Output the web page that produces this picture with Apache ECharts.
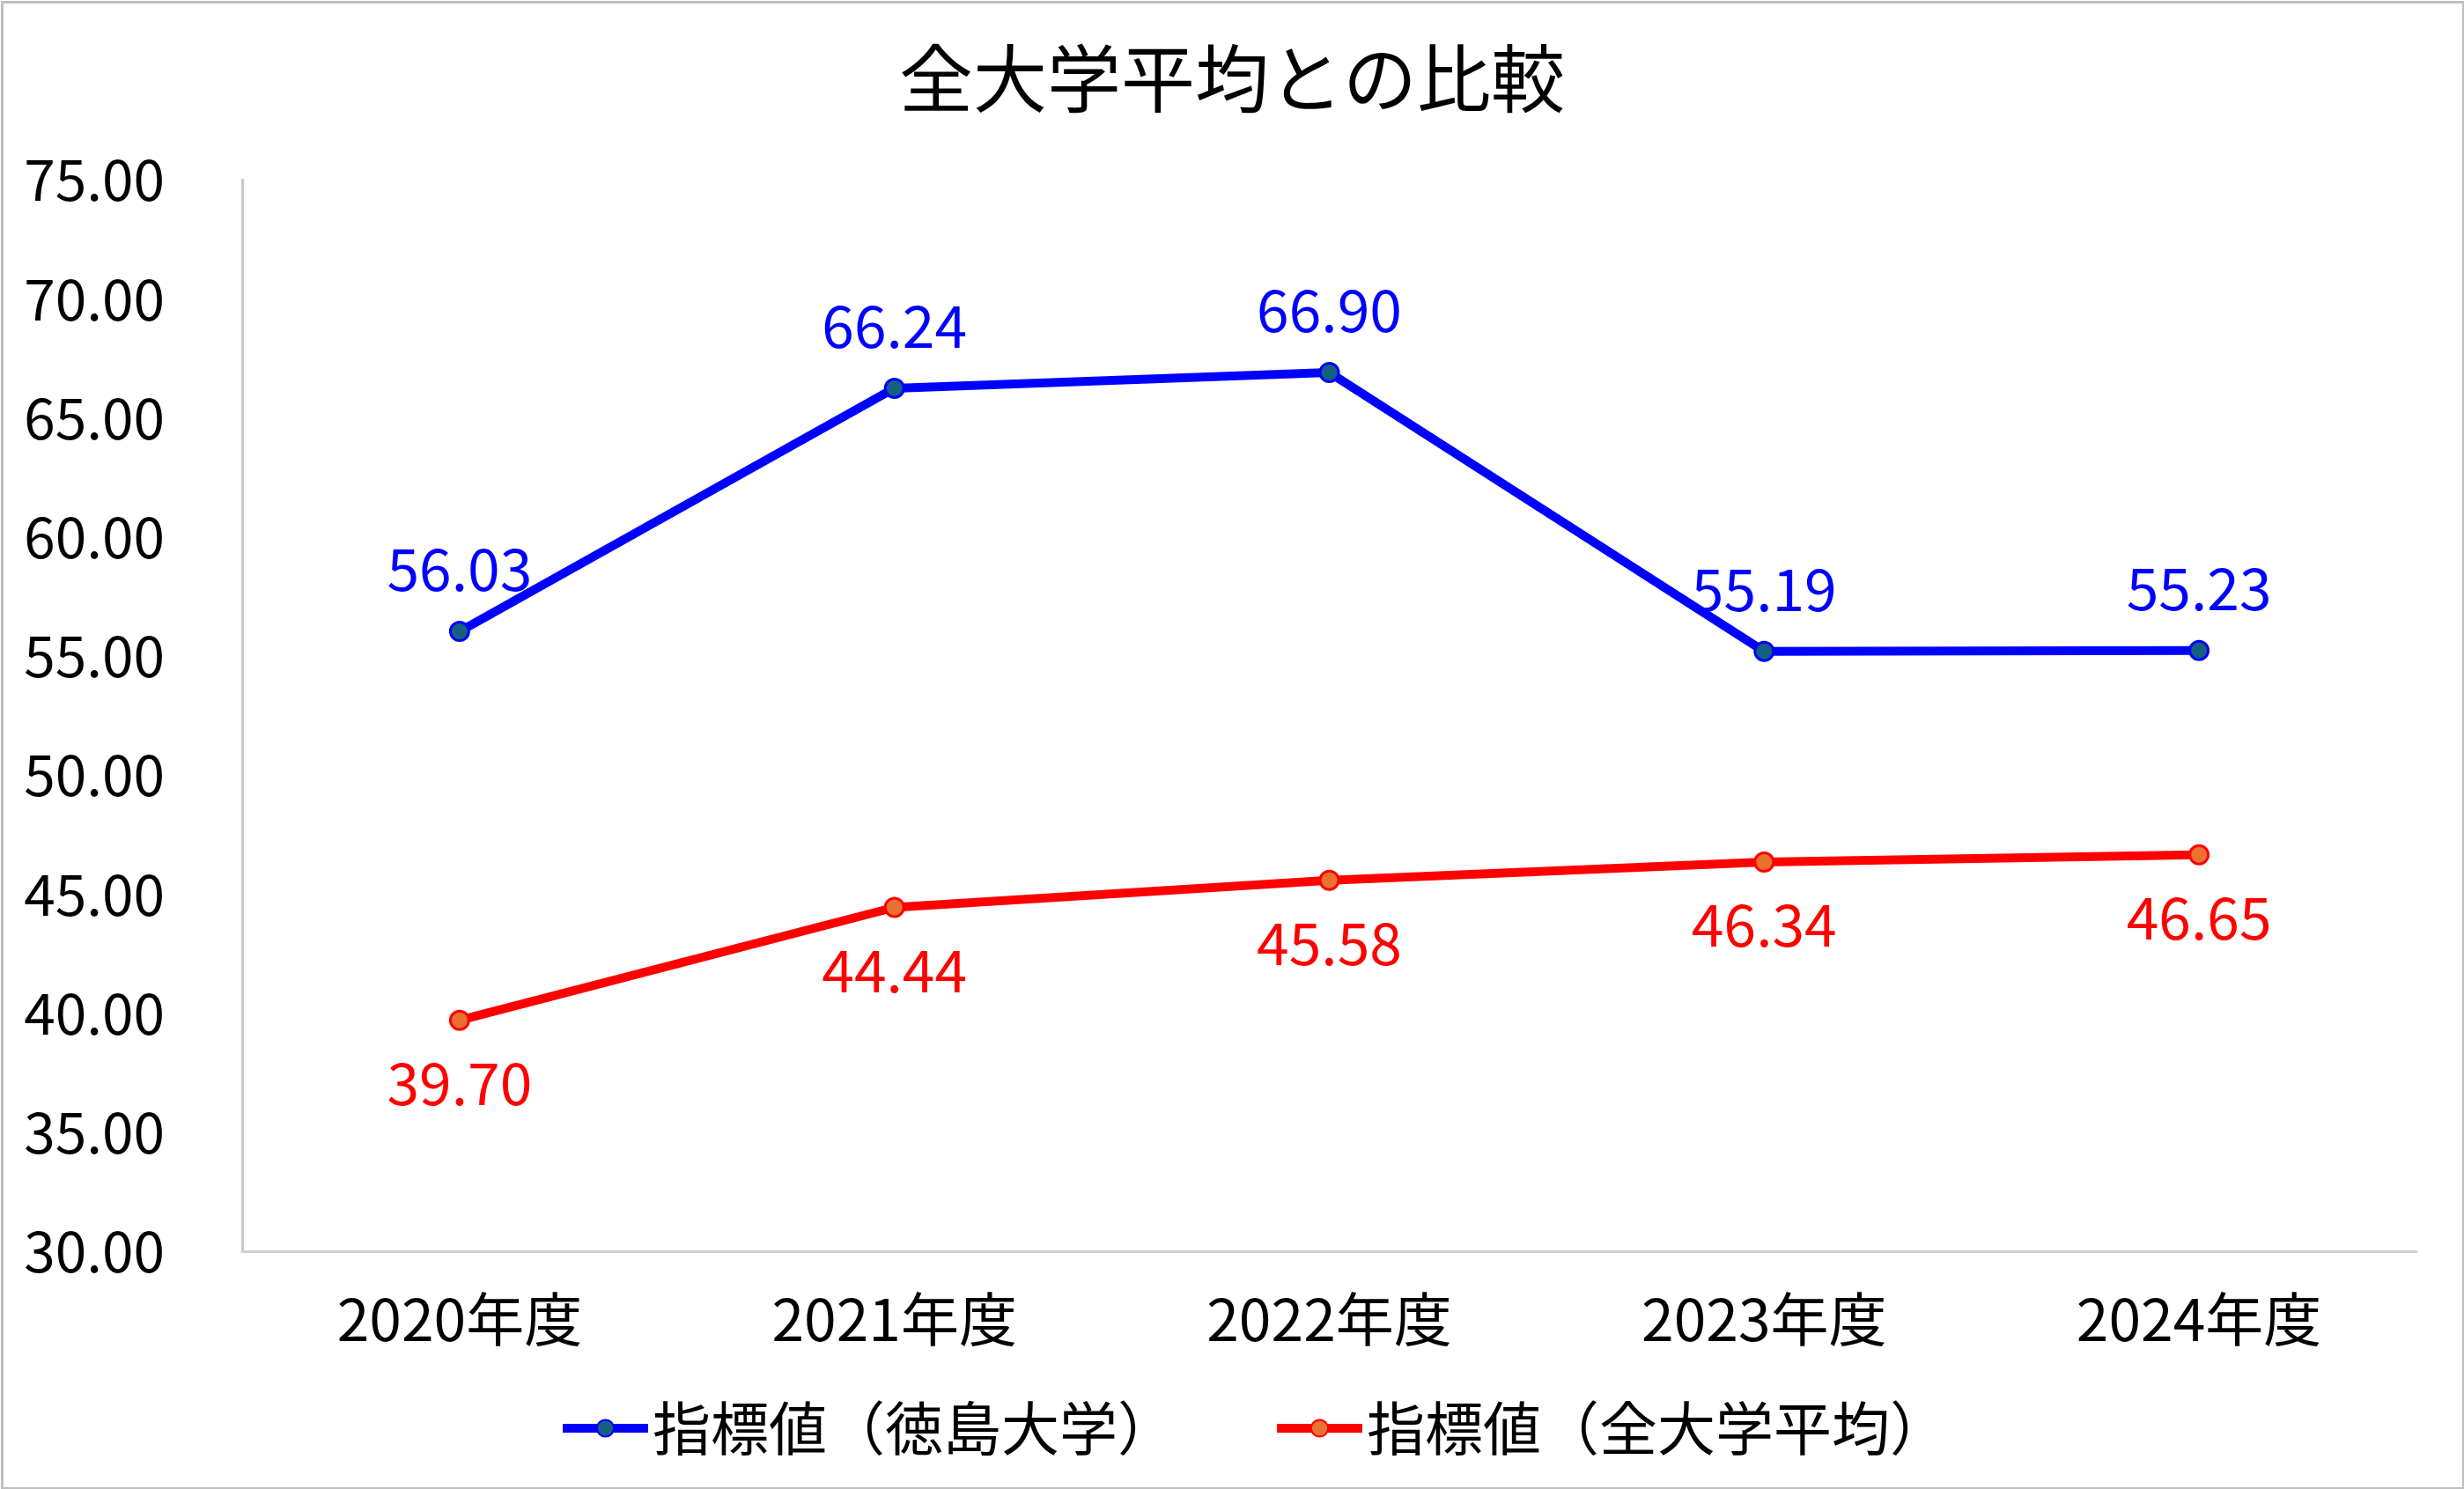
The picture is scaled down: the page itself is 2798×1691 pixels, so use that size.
<!DOCTYPE html>
<html>
<head>
<meta charset="utf-8">
<script src="https://cdn.jsdelivr.net/npm/echarts@6/dist/echarts.min.js"></script>
<style>
html,body{margin:0;padding:0;background:#fff;}
#c{width:2798px;height:1691px;}
</style>
</head>
<body>
<div id="c"></div>
<script>
const titleText = '全大学平均との比較';
const categories = ['2020年度', '2021年度', '2022年度', '2023年度', '2024年度'];
const seriesNames = ['指標値（徳島大学）', '指標値（全大学平均）'];
const tokushima = [56.03, 66.24, 66.90, 55.19, 55.23];
const allAverage = [39.70, 44.44, 45.58, 46.34, 46.65];
const yMin = 30, yMax = 75, yStep = 5;

const FONT = "'Noto Sans CJK JP', 'Noto Sans CJK SC', sans-serif";
const chart = echarts.init(document.getElementById('c'), null, {renderer: 'canvas'});
chart.setOption({
  backgroundColor: '#ffffff',
  animation: false,
  graphic: [{
    type: 'rect', left: 0, top: 0, z: 100,
    shape: {x: 1.5, y: 1.5, width: 2795, height: 1688},
    style: {fill: 'none', stroke: '#bfbfbf', lineWidth: 3}
  }],
  title: {
    text: titleText, left: 'center', top: 47, padding: 0,
    textStyle: {fontFamily: FONT, fontSize: 84, fontWeight: 'normal', color: '#000'}
  },
  legend: {
    data: seriesNames, left: 629, top: 1584, itemWidth: 97, itemHeight: 24, itemGap: 110,
    lineStyle: {width: 10},
    textStyle: {fontFamily: FONT, fontSize: 66, color: '#000', padding: [0, 0, 0, 0]}
  },
  grid: {left: 275, right: 54, top: 204, bottom: 270, containLabel: false},
  xAxis: {
    type: 'category', data: categories, boundaryGap: true,
    axisLine: {show: true, lineStyle: {color: '#d0d0d0', width: 3}},
    axisTick: {show: false},
    axisLabel: {fontFamily: FONT, fontSize: 66, color: '#000', margin: 44}
  },
  yAxis: {
    type: 'value', min: yMin, max: yMax, interval: yStep,
    axisLine: {show: true, lineStyle: {color: '#c8c8c8', width: 3}},
    axisTick: {show: false},
    splitLine: {show: false},
    axisLabel: {fontFamily: FONT, fontSize: 64, color: '#000', margin: 88, formatter: v => v.toFixed(2)}
  },
  series: [
    {
      name: seriesNames[0], type: 'line', data: tokushima,
      symbol: 'circle', symbolSize: 21,
      lineStyle: {color: '#0000ff', width: 10},
      itemStyle: {color: '#156082', borderColor: '#0000ff', borderWidth: 3},
      label: {show: true, position: 'top', distance: 26, fontFamily: FONT, fontSize: 66, color: '#0000ff',
        formatter: p => p.value.toFixed(2)}
    },
    {
      name: seriesNames[1], type: 'line', data: allAverage,
      symbol: 'circle', symbolSize: 21,
      lineStyle: {color: '#ff0000', width: 10},
      itemStyle: {color: '#E97132', borderColor: '#ff0000', borderWidth: 3},
      label: {show: true, position: 'bottom', distance: 26, fontFamily: FONT, fontSize: 66, color: '#ff0000',
        formatter: p => p.value.toFixed(2)}
    }
  ]
});
</script>
</body>
</html>
